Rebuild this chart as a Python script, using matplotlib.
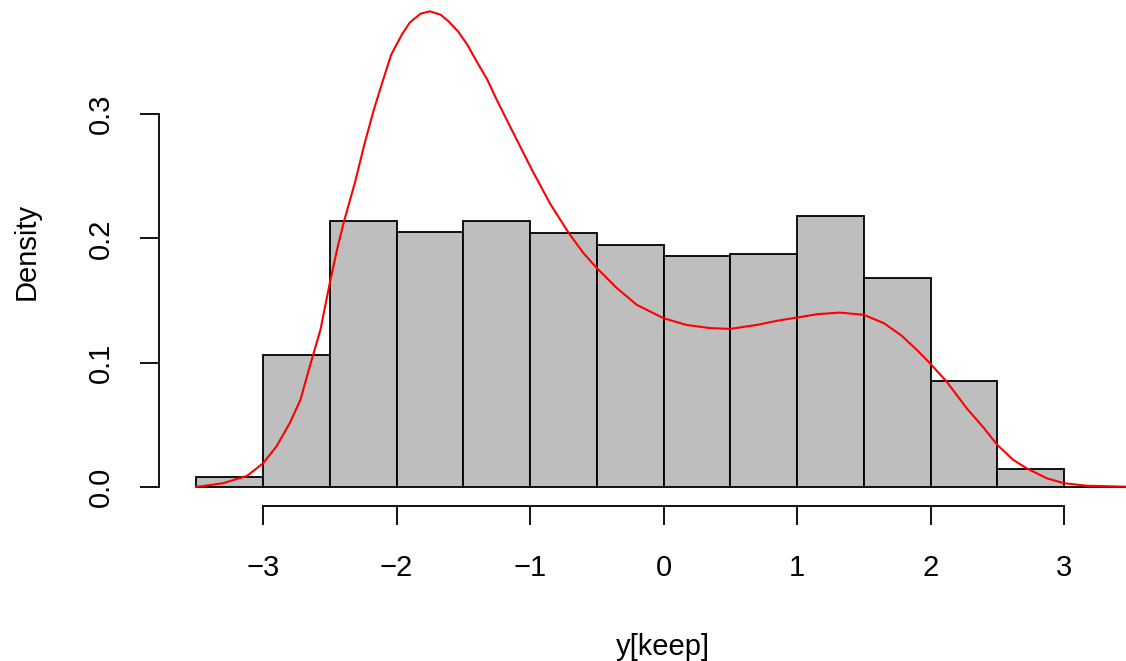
import numpy as np
import matplotlib.pyplot as plt

plt.rcParams['font.family'] = ['Liberation Sans', 'DejaVu Sans']

# histogram of y[keep], density scale
bin_edges = [-3.5, -3.0, -2.5, -2.0, -1.5, -1.0, -0.5, 0.0, 0.5, 1.0, 1.5, 2.0, 2.5, 3.0, 3.5]
density = [0.0083, 0.1062, 0.2139, 0.2051, 0.2139, 0.2043, 0.1949, 0.1860,
           0.1871, 0.2177, 0.1683, 0.0852, 0.0143, 0.0]

# kernel density estimate (red line)
curve_x = [-3.5, -3.3, -3.12, -3.0, -2.9, -2.8, -2.72, -2.65, -2.57, -2.5,
           -2.44, -2.39, -2.31, -2.24, -2.17, -2.1, -2.04, -1.96, -1.9, -1.82,
           -1.75, -1.67, -1.61, -1.54, -1.47, -1.4, -1.32, -1.25, -1.175, -1.1,
           -1.025, -0.975, -0.85, -0.71, -0.6, -0.5, -0.35, -0.2, 0.0, 0.17,
           0.35, 0.5, 0.7, 0.85, 1.0, 1.15, 1.32, 1.5, 1.65, 1.78,
           1.9, 2.0, 2.12, 2.27, 2.4, 2.5, 2.62, 2.72, 2.87, 3.0,
           3.17, 3.47, 3.8]
curve_y = [0.0, 0.003, 0.0089, 0.019, 0.0325, 0.0513, 0.070, 0.0969, 0.1264, 0.164,
           0.1935, 0.215, 0.2455, 0.276, 0.3035, 0.3277, 0.3478, 0.364, 0.3738, 0.3808,
           0.3827, 0.380, 0.3746, 0.3666, 0.3559, 0.3424, 0.3277, 0.3116, 0.2955, 0.2795,
           0.2635, 0.253, 0.228, 0.2043, 0.1882, 0.1761, 0.160, 0.1465, 0.1358, 0.1304,
           0.1278, 0.1272, 0.1304, 0.1337, 0.1363, 0.139, 0.1403, 0.1385, 0.1318, 0.122,
           0.110, 0.099, 0.0848, 0.0634, 0.0473, 0.0338, 0.0217, 0.0150, 0.0070, 0.003,
           0.001, 0.0002, 0.0]

xticks = [-3, -2, -1, 0, 1, 2, 3]
yticks = [0.0, 0.1, 0.2, 0.3]
ytick_labels = ["0.0", "0.1", "0.2", "0.3"]

fig = plt.figure(figsize=(11.26, 6.61), dpi=100)
ax = fig.add_axes([0.1411, 0.2349, 0.8964, 0.7664])

ax.bar(bin_edges[:-1], density, width=np.diff(bin_edges), align='edge',
       color='#BEBEBE', edgecolor='black', linewidth=1.3)
ax.plot(curve_x, curve_y, color='red', lw=1.5, solid_joinstyle='round')

ax.set_xlim(-3.78, 3.78)
ax.set_ylim(-0.0151, 0.3925)

ax.spines['top'].set_visible(False)
ax.spines['right'].set_visible(False)
ax.spines['left'].set_bounds(0, 0.3)
ax.spines['bottom'].set_bounds(-3, 3)
ax.spines['left'].set_linewidth(1.3)
ax.spines['bottom'].set_linewidth(1.3)

ax.set_xticks(xticks)
ax.set_yticks(yticks)
ax.set_yticklabels(ytick_labels, rotation=90, va='center')
ax.tick_params(direction='out', length=13.7, width=1.3, labelsize=21)
ax.tick_params(axis='x', pad=21)
ax.tick_params(axis='y', pad=18)

fig.text(0.589, 0.021, "y[keep]", ha='center', va='center', fontsize=21)
fig.text(0.024, 0.619, "Density", ha='center', va='center', fontsize=21, rotation=90)

fig.savefig("out.png", dpi=100)
